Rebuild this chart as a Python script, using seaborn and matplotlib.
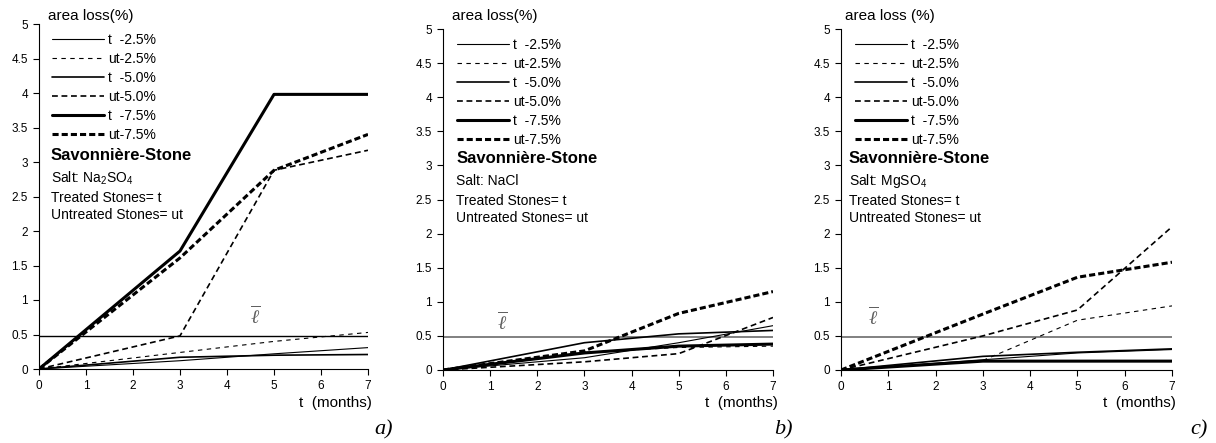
import matplotlib
matplotlib.use("Agg")
import matplotlib.pyplot as plt
import seaborn as sns

# Sampling times (months)
months = [0, 3, 5, 7]

# Area loss (%) - Na2SO4
t25_na2so4 = [0, 0.12, 0.22, 0.31]
ut25_na2so4 = [0, 0.24, 0.40, 0.53]
t50_na2so4 = [0, 0.17, 0.20, 0.21]
ut50_na2so4 = [0, 0.48, 2.88, 3.17]
t75_na2so4 = [0, 1.71, 3.98, 3.98]
ut75_na2so4 = [0, 1.61, 2.88, 3.40]

# Area loss (%) - NaCl
t25_nacl = [0, 0.18, 0.40, 0.65]
ut25_nacl = [0, 0.26, 0.33, 0.35]
t50_nacl = [0, 0.40, 0.53, 0.58]
ut50_nacl = [0, 0.12, 0.24, 0.77]
t75_nacl = [0, 0.25, 0.35, 0.38]
ut75_nacl = [0, 0.28, 0.83, 1.15]

# Area loss (%) - MgSO4
t25_mgso4 = [0, 0.15, 0.25, 0.30]
ut25_mgso4 = [0, 0.14, 0.73, 0.94]
t50_mgso4 = [0, 0.20, 0.26, 0.31]
ut50_mgso4 = [0, 0.50, 0.88, 2.10]
t75_mgso4 = [0, 0.13, 0.13, 0.13]
ut75_mgso4 = [0, 0.82, 1.36, 1.58]

series_labels = ["t  -2.5%", "ut-2.5%", "t  -5.0%", "ut-5.0%", "t  -7.5%", "ut-7.5%"]
threshold = 0.485
y_ticks = [0, 0.5, 1, 1.5, 2, 2.5, 3, 3.5, 4, 4.5, 5]
y_ticklabels = ["0", "0.5", "1", "1.5", "2", "2.5", "3", "3.5", "4", "4.5", "5"]
x_ticks = [0, 1, 2, 3, 4, 5, 6, 7]

sns.set_theme(style="ticks")
plt.rcParams["font.family"] = ["Liberation Sans", "DejaVu Sans"]
plt.rcParams["text.color"] = "black"
plt.rcParams["mathtext.fontset"] = "custom"
plt.rcParams["mathtext.rm"] = "Liberation Sans"
plt.rcParams["mathtext.it"] = "Liberation Serif:italic"

# line width, dash pattern (None = solid)
line_styles = [
    (0.8, None),
    (0.8, (4, 4)),
    (1.2, None),
    (1.2, (3.5, 2.2)),
    (2.2, None),
    (2.2, (2.0, 1.0)),
]

W, H = 1216, 443
fig = plt.figure(figsize=(W / 100, H / 100), dpi=100)

panels = [
    dict(box=(39, 24, 368, 369),
         data=[t25_na2so4, ut25_na2so4, t50_na2so4, ut50_na2so4, t75_na2so4, ut75_na2so4],
         salt=r"Salt: Na$_2$SO$_4$", ylab="area loss(%)", ylab_x=48,
         xlab_x=372, tag="a)", tag_x=393, text_x=0.036, leg_x=0.04,
         ell=(4.6, 0.76), thr_color="black", thr_lw=1.0),
    dict(box=(443, 29, 773, 370),
         data=[t25_nacl, ut25_nacl, t50_nacl, ut50_nacl, t75_nacl, ut75_nacl],
         salt="Salt: NaCl", ylab="area loss(%)", ylab_x=452,
         xlab_x=778, tag="b)", tag_x=793, text_x=0.04, leg_x=0.042,
         ell=(1.25, 0.70), thr_color="#808080", thr_lw=1.4),
    dict(box=(841, 29, 1172, 370),
         data=[t25_mgso4, ut25_mgso4, t50_mgso4, ut50_mgso4, t75_mgso4, ut75_mgso4],
         salt=r"Salt: MgSO$_4$", ylab="area loss (%)", ylab_x=845,
         xlab_x=1176, tag="c)", tag_x=1208, text_x=0.024, leg_x=0.042,
         ell=(0.68, 0.78), thr_color="#808080", thr_lw=1.4),
]

for p in panels:
    l, t, r, b = p["box"]
    ax = fig.add_axes([l / W, 1 - b / H, (r - l) / W, (b - t) / H])

    ax.axhline(threshold, color=p["thr_color"], lw=p["thr_lw"], zorder=1)

    handles = []
    for vals, label, (lw, dash) in zip(p["data"], series_labels, line_styles):
        ls = "-" if dash is None else (0, dash)
        sns.lineplot(x=months, y=vals, ax=ax, color="black", linewidth=lw,
                     linestyle=ls, label=label, zorder=3)
        handles.append(ax.lines[-1])

    ax.legend(handles=handles, labels=series_labels, loc="upper left",
              bbox_to_anchor=(p["leg_x"], 0.975), frameon=False, fontsize=10,
              handlelength=3.75, handletextpad=0.3, labelspacing=0.37,
              borderpad=0, borderaxespad=0)

    ax.set_xlim(0, 7)
    ax.set_ylim(0, 5)
    ax.set_xticks(x_ticks)
    ax.set_yticks(y_ticks)
    ax.set_yticklabels(y_ticklabels)
    ax.set_xlabel("")
    ax.set_ylabel("")
    ax.tick_params(axis="both", labelsize=8.5, length=4.5, width=0.8,
                   colors="black", pad=3.5)
    for side in ("top", "right"):
        ax.spines[side].set_visible(False)
    for side in ("left", "bottom"):
        ax.spines[side].set_color("black")
        ax.spines[side].set_linewidth(0.8)
    ax.set_facecolor("white")

    ax.text(p["ell"][0], p["ell"][1], r"$\overline{\ell}$", color="#606060",
            fontsize=14, ha="center", va="center")

    tx = p["text_x"]
    ax.text(tx, 0.62, "Savonnière-Stone", transform=ax.transAxes,
            fontsize=12, fontweight="bold", va="center", ha="left")
    ax.text(tx, 0.553, p["salt"], transform=ax.transAxes, fontsize=10,
            va="center", ha="left")
    ax.text(tx, 0.496, "Treated Stones= t", transform=ax.transAxes,
            fontsize=10, va="center", ha="left")
    ax.text(tx, 0.446, "Untreated Stones= ut", transform=ax.transAxes,
            fontsize=10, va="center", ha="left")

    fig.text(p["ylab_x"] / W, 1 - 16 / H, p["ylab"], fontsize=11,
             ha="left", va="center")
    fig.text(p["xlab_x"] / W, 1 - 403 / H, "t  (months)", fontsize=11,
             ha="right", va="center")
    fig.text(p["tag_x"] / W, 1 - 430 / H, p["tag"], fontsize=16,
             family="Liberation Serif", style="italic", ha="right", va="center")

fig.savefig("out.png", dpi=100, facecolor="white")
